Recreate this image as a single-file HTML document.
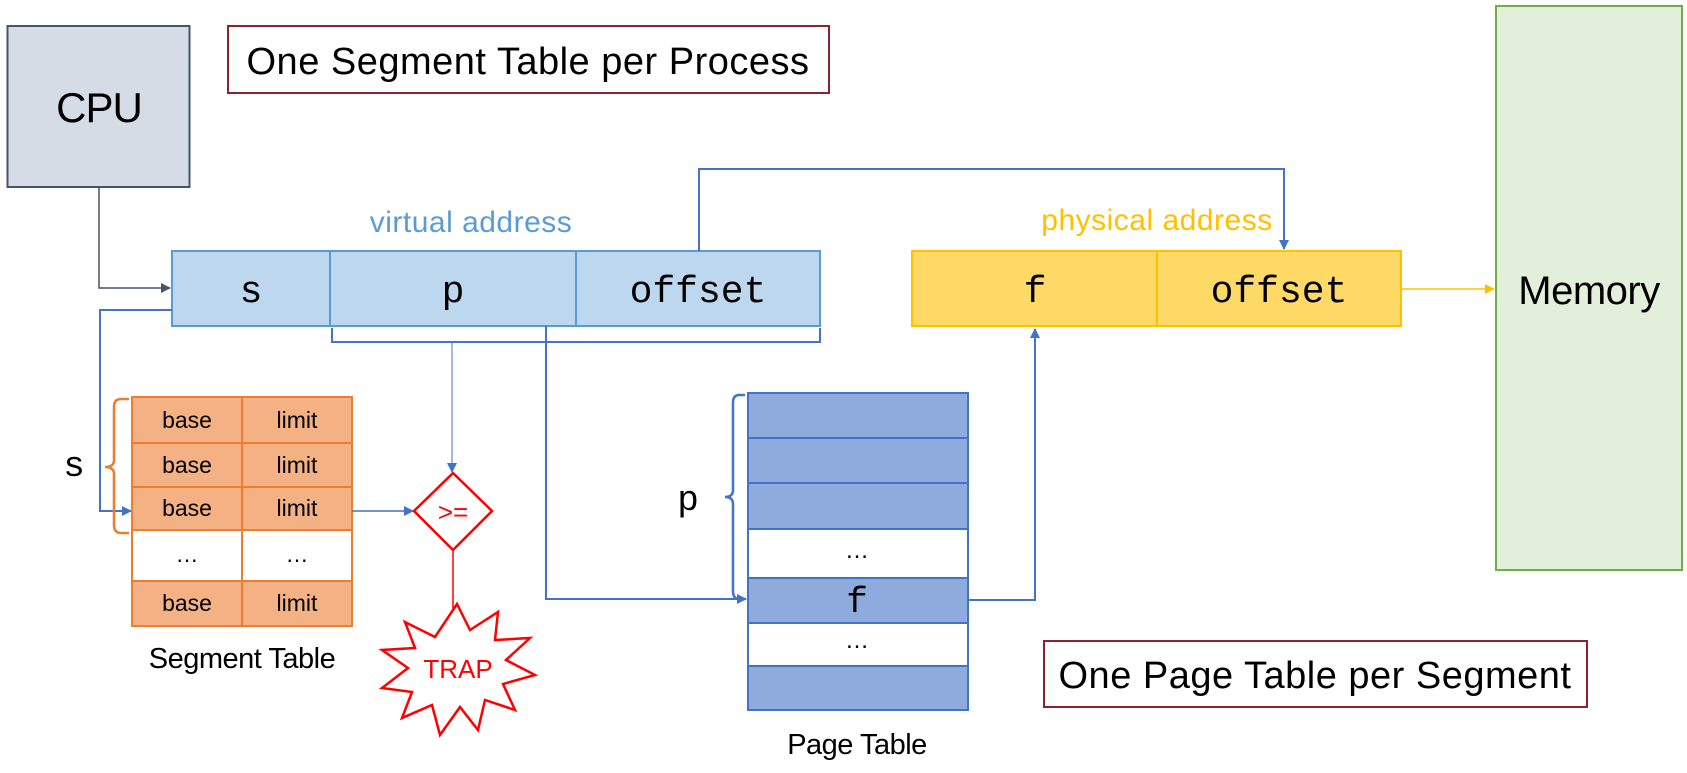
<!DOCTYPE html>
<html><head><style>
body{margin:0;width:1687px;height:768px;background:#fff;overflow:hidden}
svg text{font-family:"Liberation Sans",sans-serif}
.m{font-family:"Liberation Mono",monospace}
</style></head><body>
<svg width="1687" height="768" viewBox="0 0 1687 768">
<defs>
<marker id="ag" markerWidth="10" markerHeight="10" refX="9" refY="5" orient="auto" markerUnits="userSpaceOnUse"><path d="M0,0 L10,5 L0,10z" fill="#44546a"/></marker>
<marker id="ab" markerWidth="10" markerHeight="10" refX="9" refY="5" orient="auto" markerUnits="userSpaceOnUse"><path d="M0,0 L10,5 L0,10z" fill="#4472c4"/></marker>
<marker id="ar" markerWidth="10" markerHeight="10" refX="9" refY="5" orient="auto" markerUnits="userSpaceOnUse"><path d="M0,0 L10,5 L0,10z" fill="#ff0000"/></marker>
<marker id="ay" markerWidth="10" markerHeight="10" refX="9" refY="5" orient="auto" markerUnits="userSpaceOnUse"><path d="M0,0 L10,5 L0,10z" fill="#ffc000"/></marker>
</defs>
<rect x="7.5" y="26" width="182" height="161" fill="#d6dce5" stroke="#44546a" stroke-width="2"/>
<text x="99" y="122" font-size="42" text-anchor="middle" letter-spacing="-1">CPU</text>
<rect x="228" y="26" width="601" height="67" fill="#fff" stroke="#8b2232" stroke-width="2"/>
<text x="528" y="74" font-size="38" text-anchor="middle" letter-spacing="0.5">One Segment Table per Process</text>
<text x="471" y="232" font-size="30" fill="#5b9bd5" text-anchor="middle" letter-spacing="0.5">virtual address</text>
<rect x="172" y="251" width="158" height="75" fill="#bdd7ee" stroke="#5b9bd5" stroke-width="2"/>
<rect x="330" y="251" width="246" height="75" fill="#bdd7ee" stroke="#5b9bd5" stroke-width="2"/>
<rect x="576" y="251" width="244" height="75" fill="#bdd7ee" stroke="#5b9bd5" stroke-width="2"/>
<text class="m" x="251" y="302" font-size="38" text-anchor="middle">s</text>
<text class="m" x="453" y="302" font-size="38" text-anchor="middle">p</text>
<text class="m" x="698" y="302" font-size="38" text-anchor="middle">offset</text>
<path d="M332,328 V342 H820 V328" fill="none" stroke="#4472c4" stroke-width="2"/>
<path d="M99,187 V288 H170" fill="none" stroke="#44546a" stroke-width="1.5" marker-end="url(#ag)"/>
<path d="M172,310 H100 V511 H131" fill="none" stroke="#4472c4" stroke-width="2" marker-end="url(#ab)"/>
<g stroke="#ed7d31" stroke-width="2">
<rect x="132" y="397" width="220" height="46" fill="#f4b183"/>
<rect x="132" y="443" width="220" height="44" fill="#f4b183"/>
<rect x="132" y="487" width="220" height="43" fill="#f4b183"/>
<rect x="132" y="530" width="220" height="51" fill="#fff"/>
<rect x="132" y="581" width="220" height="45" fill="#f4b183"/>
<line x1="242" y1="397" x2="242" y2="626"/>
</g>
<g font-size="23" text-anchor="middle">
<text x="187" y="428">base</text><text x="297" y="428">limit</text>
<text x="187" y="473">base</text><text x="297" y="473">limit</text>
<text x="187" y="516">base</text><text x="297" y="516">limit</text>
<text x="187" y="562">…</text><text x="297" y="562">…</text>
<text x="187" y="611">base</text><text x="297" y="611">limit</text>
</g>
<path d="M129,399 H121 Q114,399 114,407 V460 Q114,467 105,467 Q114,467 114,474 V525 Q114,533 121,533 H129" fill="none" stroke="#ed7d31" stroke-width="2.5"/>
<text class="m" x="74" y="476" font-size="36" text-anchor="middle">s</text>
<text x="242" y="668" font-size="29" text-anchor="middle" letter-spacing="-0.5">Segment Table</text>
<path d="M352,511 H413" fill="none" stroke="#4472c4" stroke-width="1.5" marker-end="url(#ab)"/>
<path d="M452,342 V472" fill="none" stroke="#4472c4" stroke-width="1" marker-end="url(#ab)"/>
<polygon points="453,473 492,511 453,550 414,511" fill="#fff" stroke="#ff0000" stroke-width="2.5"/>
<text x="453" y="521" font-size="26" fill="#ff0000" text-anchor="middle">&gt;=</text>
<path d="M453,550 V624" fill="none" stroke="#ff0000" stroke-width="1.5" marker-end="url(#ar)"/>
<polygon points="457,604 470,630 498,612 495,640 530,638 506,660 535,675 503,684 515,710 485,700 478,730 460,707 440,735 432,705 402,718 412,692 382,688 408,668 382,650 415,648 405,622 435,637" fill="#fff" stroke="#ff0000" stroke-width="2.5"/>
<text x="458" y="678" font-size="26" fill="#ff0000" text-anchor="middle">TRAP</text>
<path d="M546,326 V599 H746" fill="none" stroke="#4472c4" stroke-width="2" marker-end="url(#ab)"/>
<g stroke="#4472c4" stroke-width="2">
<rect x="748" y="393" width="220" height="45" fill="#8faadc"/>
<rect x="748" y="438" width="220" height="45" fill="#8faadc"/>
<rect x="748" y="483" width="220" height="46" fill="#8faadc"/>
<rect x="748" y="529" width="220" height="49" fill="#fff"/>
<rect x="748" y="578" width="220" height="45" fill="#8faadc"/>
<rect x="748" y="623" width="220" height="43" fill="#fff"/>
<rect x="748" y="666" width="220" height="44" fill="#8faadc"/>
</g>
<text x="857" y="558" font-size="24" text-anchor="middle">…</text>
<text x="857" y="648" font-size="24" text-anchor="middle">…</text>
<text class="m" x="857" y="612" font-size="36" text-anchor="middle">f</text>
<path d="M745,395 H739 Q733,395 733,403 V490 Q733,497 725,497 Q733,497 733,504 V591 Q733,599 739,599 H745" fill="none" stroke="#4472c4" stroke-width="2.5"/>
<text class="m" x="688" y="510" font-size="36" text-anchor="middle">p</text>
<text x="857" y="754" font-size="29" text-anchor="middle" letter-spacing="-0.5">Page Table</text>
<path d="M968,600 H1035 V329" fill="none" stroke="#4472c4" stroke-width="2" marker-end="url(#ab)"/>
<text x="1157" y="230" font-size="30" fill="#ffc000" text-anchor="middle" letter-spacing="0.5">physical address</text>
<rect x="912" y="251" width="245" height="75" fill="#ffd966" stroke="#ffc000" stroke-width="2"/>
<rect x="1157" y="251" width="244" height="75" fill="#ffd966" stroke="#ffc000" stroke-width="2"/>
<text class="m" x="1035" y="302" font-size="38" text-anchor="middle">f</text>
<text class="m" x="1279" y="302" font-size="38" text-anchor="middle">offset</text>
<path d="M699,251 V169 H1284 V249" fill="none" stroke="#4472c4" stroke-width="2" marker-end="url(#ab)"/>
<path d="M1401,289 H1494" fill="none" stroke="#ffc000" stroke-width="1.5" marker-end="url(#ay)"/>
<rect x="1496" y="6" width="186" height="564" fill="#e2efda" stroke="#70ad47" stroke-width="2"/>
<text x="1589" y="304" font-size="40" text-anchor="middle" letter-spacing="-0.5">Memory</text>
<rect x="1044" y="641" width="543" height="66" fill="#fff" stroke="#8b2232" stroke-width="2"/>
<text x="1315" y="688" font-size="38" text-anchor="middle" letter-spacing="0.5">One Page Table per Segment</text>
</svg>
</body></html>
